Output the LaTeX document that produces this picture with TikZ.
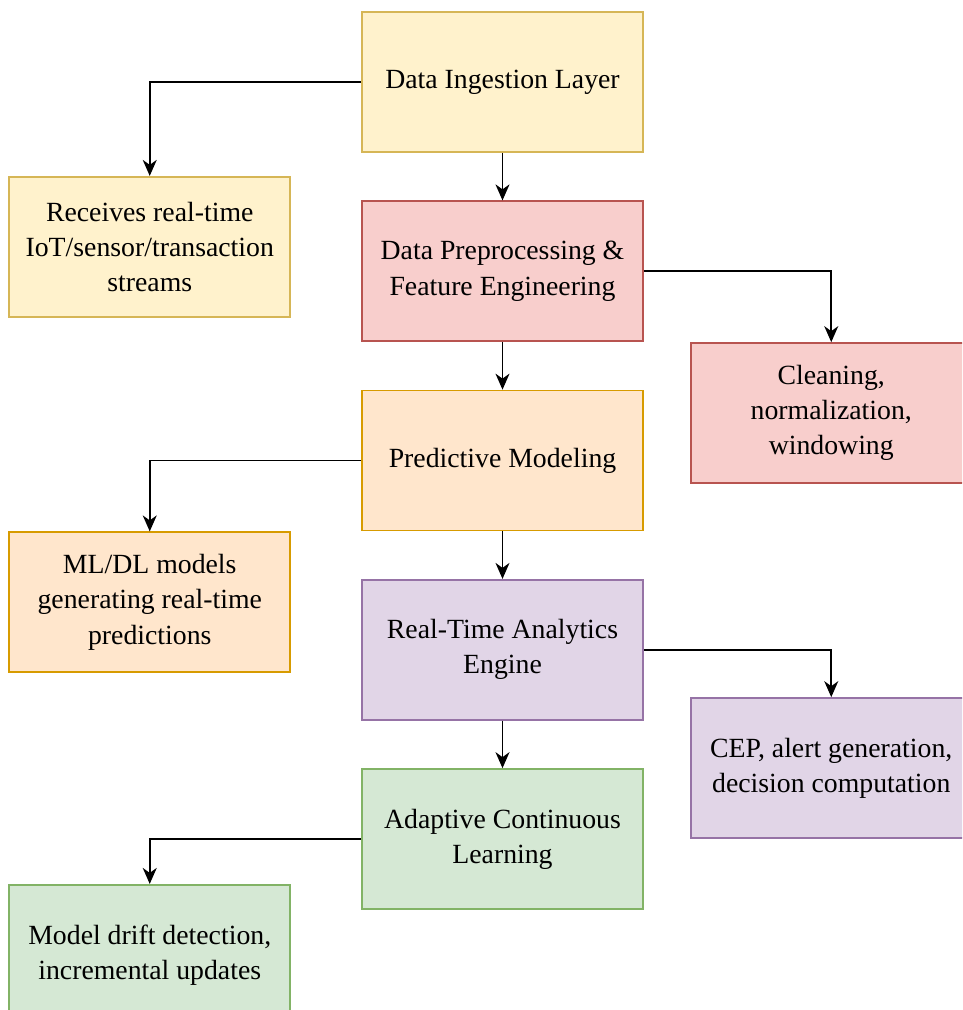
\documentclass[tikz,border=0pt]{standalone}
\usepackage{fontspec}
\setmainfont{Liberation Serif}
\usepackage{tikz}
\usetikzlibrary{shapes, arrows.meta, positioning}

\definecolor{yellowfill}{HTML}{FFF2CC}
\definecolor{yellowline}{HTML}{D6B656}
\definecolor{redfill}{HTML}{F8CECC}
\definecolor{redline}{HTML}{B85450}
\definecolor{orangefill}{HTML}{FFE6CC}
\definecolor{orangeline}{HTML}{D79B00}
\definecolor{purplefill}{HTML}{E1D5E7}
\definecolor{purpleline}{HTML}{9673A6}
\definecolor{greenfill}{HTML}{D5E8D4}
\definecolor{greenline}{HTML}{82B366}

\begin{document}
\begin{tikzpicture}[node distance=0.95cm, auto,
        layer/.style={draw, rectangle, line width=1pt, minimum width=5.62cm, minimum height=2.8cm, align=center, font=\fontsize{15.8}{20}\selectfont},
        link/.style={-{Stealth[length=0.32cm, width=0.28cm, inset=0.1cm]}, line width=0.9pt}]
        \useasboundingbox (0,0) rectangle (19.24,-20.2);
        \clip (0,0) rectangle (19.24,-20.2);

        % Nodes
        \node (ingest) [layer, fill=yellowfill, draw=yellowline] at (10.05,-1.64) {Data Ingestion Layer};
        \node (prep) [layer, fill=redfill, draw=redline, below=of ingest] {Data Preprocessing \&\\Feature Engineering};
        \node (predict) [layer, fill=orangefill, draw=orangeline, below=of prep] {Predictive Modeling};
        \node (engine) [layer, fill=purplefill, draw=purpleline, below=of predict] {Real-Time Analytics\\Engine};
        \node (adapt) [layer, fill=greenfill, draw=greenline, below=of engine] {Adaptive Continuous\\Learning};

        % Side notes
        \node (recv) [layer, fill=yellowfill, draw=yellowline, below left=0.46cm and 1.4cm of ingest.south west] {Receives real-time\\IoT/sensor/transaction\\streams};
        \node (clean) [layer, fill=redfill, draw=redline, below right=0cm and 0.92cm of prep.south east] {Cleaning,\\normalization,\\windowing};
        \node (models) [layer, fill=orangefill, draw=orangeline, below left=0cm and 1.4cm of predict.south west] {ML/DL models\\generating real-time\\predictions};
        \node (cep) [layer, fill=purplefill, draw=purpleline, below right=-0.47cm and 0.92cm of engine.south east] {CEP, alert generation,\\decision computation};
        \node (drift) [layer, fill=greenfill, draw=greenline, below left=-0.52cm and 1.4cm of adapt.south west] {Model drift detection,\\incremental updates};

        % Arrows
        \draw[link] (ingest) -- (prep);
        \draw[link] (prep) -- (predict);
        \draw[link] (predict) -- (engine);
        \draw[link] (engine) -- (adapt);
        \draw[link] (ingest.west) -| (recv.north);
        \draw[link] (prep.east) -| (clean.north);
        \draw[link] (predict.west) -| (models.north);
        \draw[link] (engine.east) -| (cep.north);
        \draw[link] (adapt.west) -| (drift.north);
    \end{tikzpicture}
\end{document}
